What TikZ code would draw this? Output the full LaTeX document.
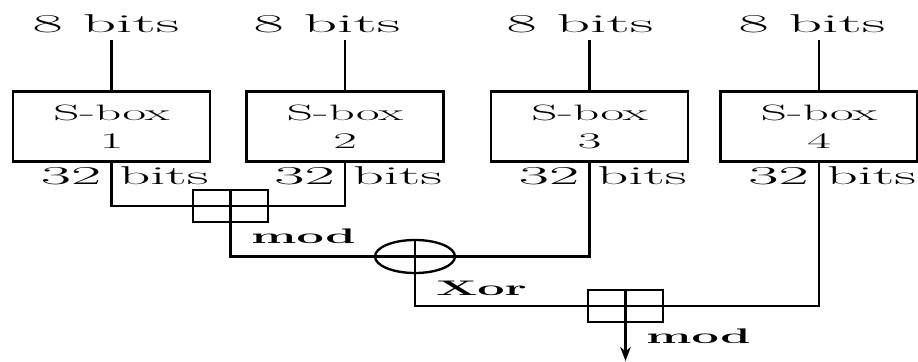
\documentclass[tikz,border=0pt]{standalone}
\usepackage{graphicx}
\usetikzlibrary{arrows.meta,calc,positioning,shapes.geometric}
\newcommand{\wide}[2][2.3]{\scalebox{#1}[1]{#2}}

\begin{document}
\begin{tikzpicture}[>=Stealth,x=0.03cm,y=-0.03cm,line width=2pt,
  sbox/.style={draw,minimum width=5.9cm,minimum height=2.1cm,align=center,font=\fontsize{19}{24}\selectfont},
  lbl/.style={inner sep=0pt,font=\fontsize{22}{26}\selectfont},
  inlbl/.style={lbl,outer ysep=0.24cm},
  oplbl/.style={inner sep=0pt,font=\fontsize{18}{22}\selectfont\bfseries},
  addbox/.style={draw,minimum width=2.25cm,minimum height=0.96cm,inner sep=0pt},
  xorring/.style={draw,ellipse,minimum width=2.4cm,minimum height=0.99cm,inner sep=0pt}]
\useasboundingbox (0,0) rectangle (918,361);
% inputs and s-boxes
\foreach \n/\x in {1/106,2/327,3/580,4/812} \node[inlbl,anchor=base] (in\n) at (\x,32) {\wide[2.55]{8 bits}};
\foreach \n/\x in {1/111.5,2/345,3/589.5,4/819} \node[sbox] (sb\n) at (\x,126.5) {\wide{S-box}\\\wide{\n}};
\foreach \n in {1,...,4} {
  \draw (sb\n.north) -- (sb\n.north |- in\n.south);
  \node[lbl,anchor=base east] (w\n) at ([xshift=-0.27cm,yshift=-0.65cm]sb\n.south) {\wide[2.55]{32}};
  \node[lbl,anchor=base west] (b\n) at ([xshift=0.2cm,yshift=-0.65cm]sb\n.south) {\wide[2.35]{bits}};
}
% mixing
\node[addbox] (m1) at (230.5,206) {};
\node[xorring] (xr) at (415,256.5) {};
\node[addbox] (m2) at (625.5,306) {};
\coordinate (out) at (625.5,361);
\draw (sb1.south) |- (m1.center) -| (sb2.south);
\draw (m1.north) |- (xr.center); \draw (sb3.south) |- (xr.center);
\draw (xr.north) |- (m2.center); \draw (sb4.south) |- (m2.center);
\draw[->] (m2.north) -- (out);
\node[oplbl,anchor=base west] (mod1) at (250,243) {\wide{mod}};
\node[oplbl,anchor=base west] (xorl) at (435,295) {\wide{Xor}};
\node[oplbl,anchor=base west] (mod2) at (645,343) {\wide{mod}};
\end{tikzpicture}
\end{document}
